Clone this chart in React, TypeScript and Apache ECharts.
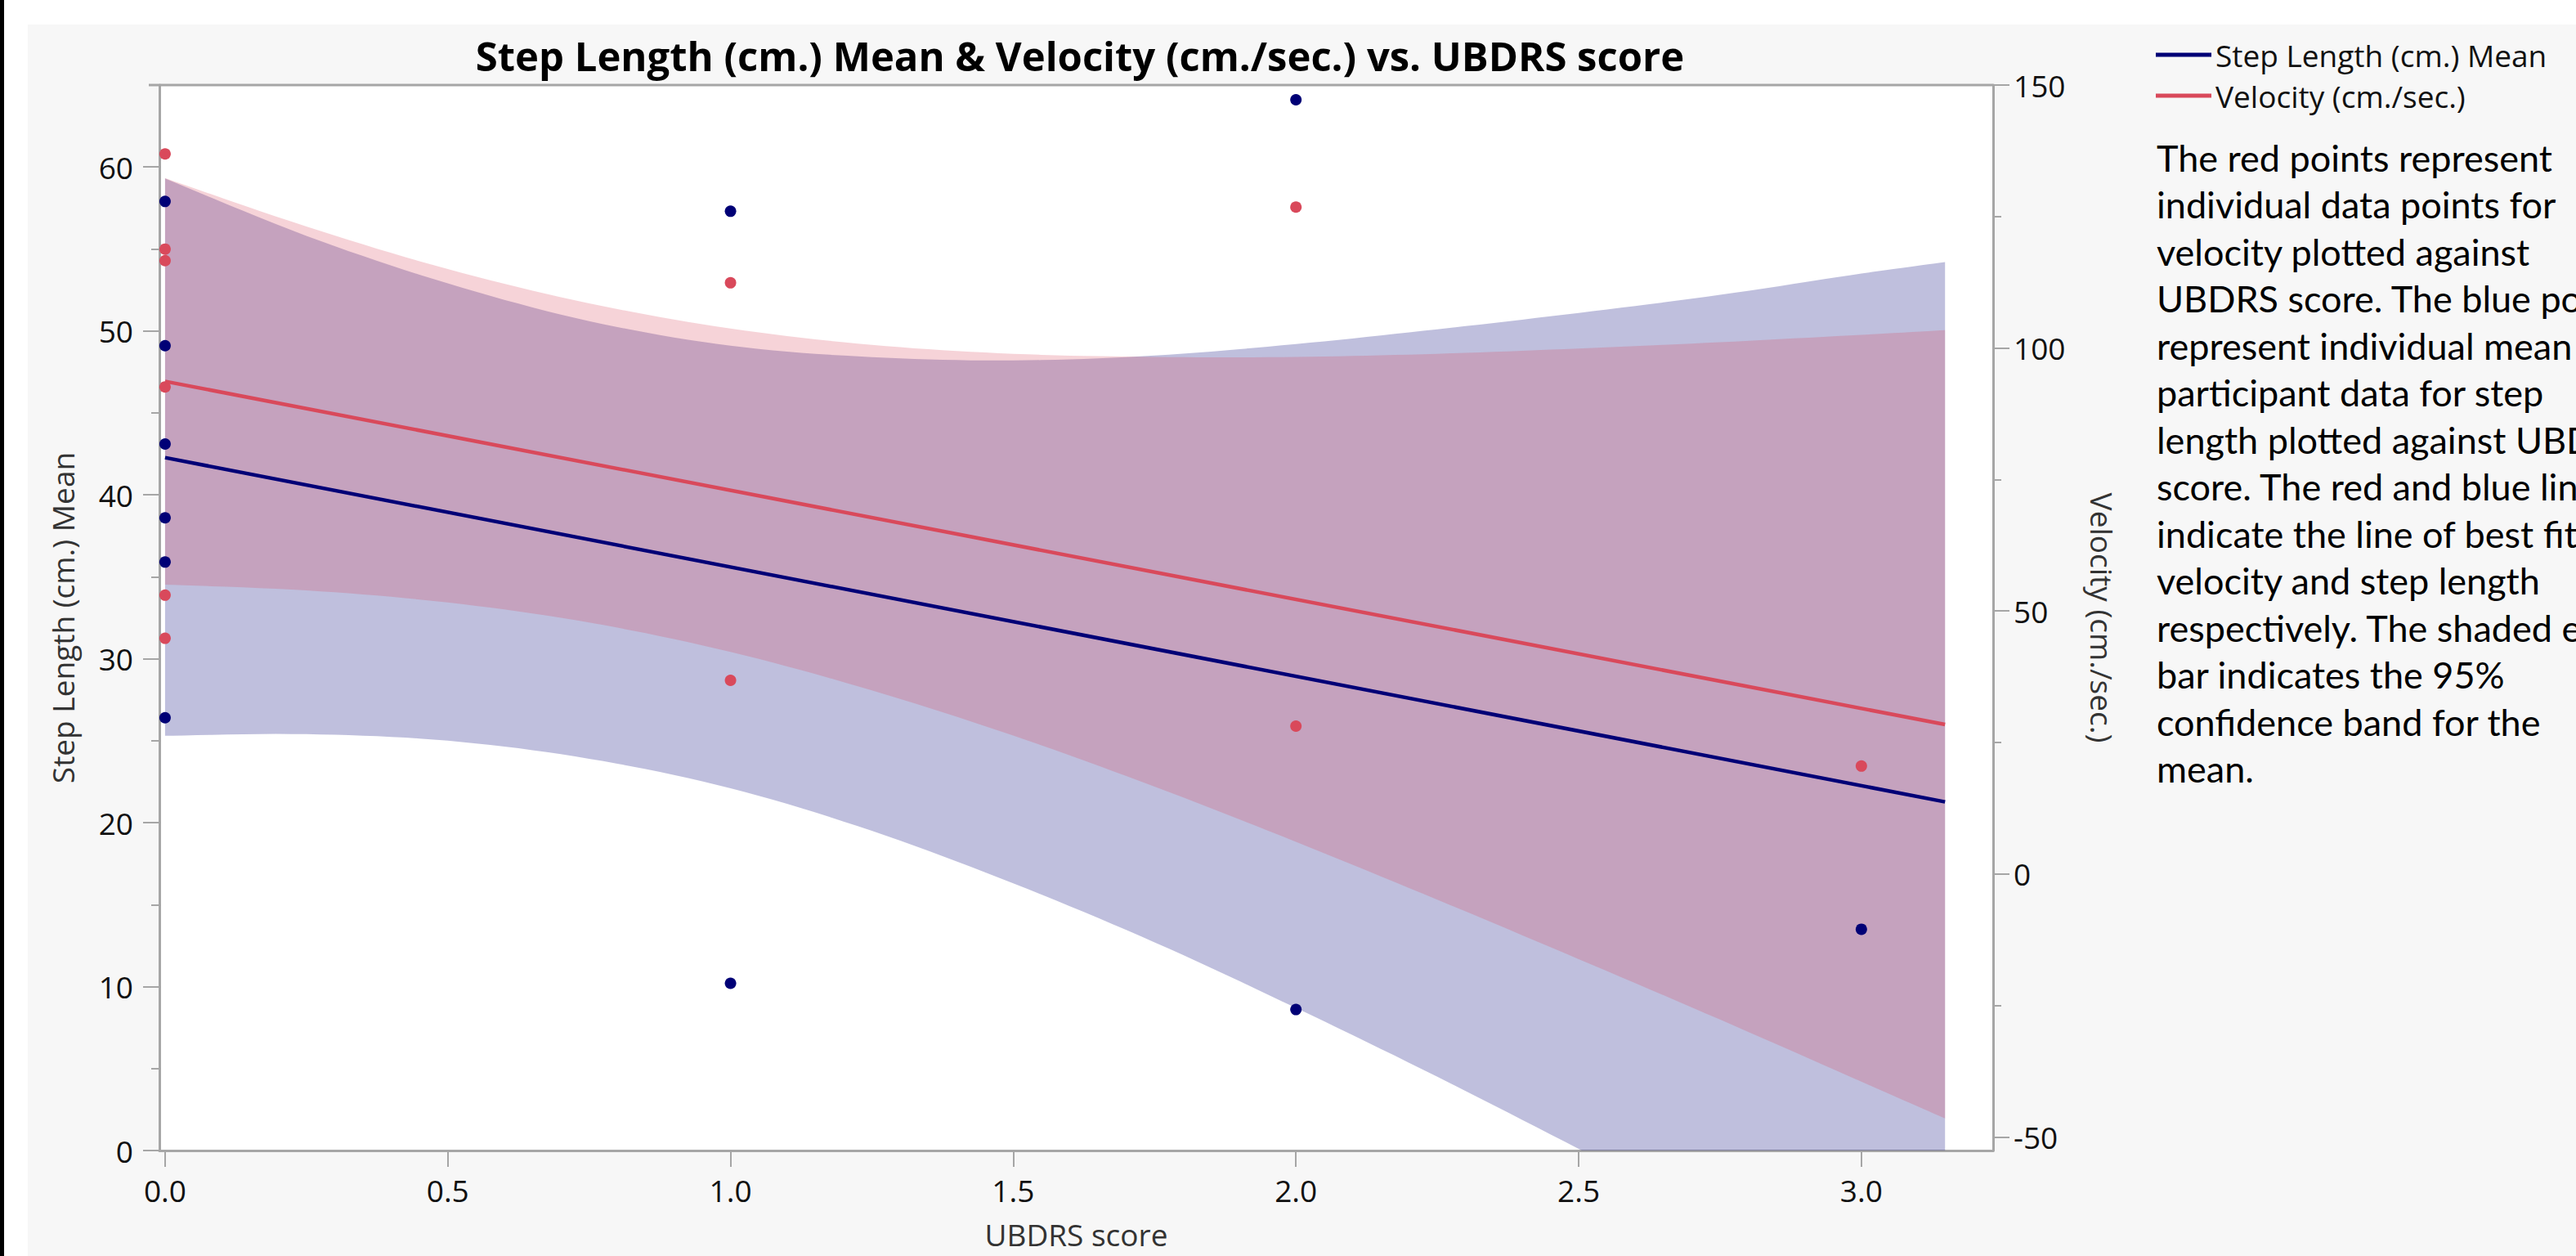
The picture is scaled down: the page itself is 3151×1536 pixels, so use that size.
import React, { useEffect, useRef } from "react";
import * as echarts from "echarts";

// ---- data ----
const ubdrsStep = [0, 0, 0, 0, 0, 0, 1, 1, 2, 2, 3];
const stepLength = [57.9, 49.1, 43.1, 38.6, 35.9, 26.4, 57.3, 10.2, 64.1, 8.6, 13.5];
const ubdrsVel = [0, 0, 0, 0, 0, 0, 1, 1, 2, 2, 3];
const velocity = [136.9, 118.8, 116.6, 92.6, 53.0, 44.8, 112.4, 36.8, 126.8, 28.1, 20.5];

const fitX = [0, 3.148];
const stepFit = [42.27, 21.27];
const velFit = [93.66, 28.4];

const bandX = [0, 0.25, 0.5, 0.75, 1, 1.25, 1.5, 1.75, 2, 2.25, 2.5, 2.75, 3, 3.148];
const stepLower = [25.3, 25.4, 25.0, 23.9, 22.1, 19.5, 16.3, 12.7, 8.7, 4.5, 0.1, -4.4, -8.9, -11.7];
const stepUpper = [59.3, 55.8, 52.9, 50.6, 49.1, 48.4, 48.2, 48.5, 49.2, 50.1, 51.1, 52.2, 53.5, 54.2];
const velLower = [55.0, 53.9, 51.6, 47.8, 42.2, 34.9, 26.3, 16.6, 6.1, -4.9, -16.2, -27.7, -39.5, -46.5];
const velUpper = [132.3, 123.1, 115.0, 108.5, 103.7, 100.6, 98.9, 98.3, 98.3, 98.9, 99.9, 101.1, 102.5, 103.4];

const xTicks = [0, 0.5, 1, 1.5, 2, 2.5, 3];
const leftTicks = [0, 10, 20, 30, 40, 50, 60];
const rightTicks = [-50, 0, 50, 100, 150];

const titleText = "Step Length (cm.) Mean & Velocity (cm./sec.) vs. UBDRS score";
const stepName = "Step Length (cm.) Mean";
const velName = "Velocity (cm./sec.)";
const noteLines = [
  "The red points represent",
  "individual data points for",
  "velocity plotted against",
  "UBDRS score. The blue points",
  "represent individual mean",
  "participant data for step",
  "length plotted against UBDRS",
  "score. The red and blue lines",
  "indicate the line of best fit for",
  "velocity and step length",
  "respectively. The shaded error",
  "bar indicates the 95%",
  "confidence band for the",
  "mean.",
];

const BLUE = "#000076";
const RED = "#d9495b";
const AXIS = "#a6a6a6";
const FONT = "'Open Sans', sans-serif";

// Catmull-Rom smoothing of already-projected pixel points (rendering only)
function smoothPixels(pts: number[][], seg = 10): number[][] {
  const out: number[][] = [];
  const n = pts.length;
  for (let i = 0; i < n - 1; i++) {
    const p0 = pts[Math.max(i - 1, 0)];
    const p1 = pts[i];
    const p2 = pts[i + 1];
    const p3 = pts[Math.min(i + 2, n - 1)];
    for (let s = 0; s < seg; s++) {
      const t = s / seg;
      const t2 = t * t;
      const t3 = t2 * t;
      const f = (a: number, b: number, c: number, d: number) =>
        0.5 * (2 * b + (-a + c) * t + (2 * a - 5 * b + 4 * c - d) * t2 + (-a + 3 * b - 3 * c + d) * t3);
      out.push([f(p0[0], p1[0], p2[0], p3[0]), f(p0[1], p1[1], p2[1], p3[1])]);
    }
  }
  out.push(pts[n - 1]);
  return out;
}

function bandSeries(name: string, yAxisIndex: number, lower: number[], upper: number[], fill: string) {
  return {
    name,
    type: "custom",
    xAxisIndex: 0,
    yAxisIndex,
    clip: true,
    silent: true,
    data: [[bandX[0], lower[0]]],
    renderItem: (_params: any, api: any) => {
      const top = bandX.map((x, i) => api.coord([x, upper[i]]));
      const bot = bandX.map((x, i) => api.coord([x, lower[i]]));
      const pts = [...smoothPixels(top), ...smoothPixels(bot).reverse()];
      return { type: "polygon", shape: { points: pts }, style: { fill } };
    },
  };
}

export default function App() {
  const ref = useRef<HTMLDivElement>(null);
  useEffect(() => {
    document.body.style.margin = "0";
    document.body.style.overflow = "hidden";
    const chart = echarts.init(ref.current!, null, { renderer: "svg" });

    const pairs = (xs: number[], ys: number[]) => xs.map((x, i) => [x, ys[i]]);

    const labelStyle = { fontSize: 37, color: "#111", fontFamily: FONT };
    const nameStyle = { fontSize: 37, color: "#333", fontFamily: FONT };
    const tickLine = { color: AXIS, width: 2 };

    chart.setOption({
      animation: false,
      backgroundColor: "#f7f7f7",
      textStyle: { fontFamily: FONT },
      title: {
        text: titleText,
        left: 1316,
        top: 38,
        textAlign: "center",
        textStyle: { fontSize: 49, fontWeight: "bold", color: "#000", fontFamily: FONT },
      },
      legend: {
        orient: "vertical",
        left: 2632,
        top: 40,
        itemWidth: 68,
        itemHeight: 5,
        itemGap: 6,
        icon: "rect",
        data: [stepName, velName],
        textStyle: { fontSize: 37, color: "#111", fontFamily: FONT, lineHeight: 44 },
        selectedMode: false,
      },
      grid: {
        left: 195,
        top: 104,
        width: 2243,
        height: 1303,
        show: true,
        backgroundColor: "#ffffff",
        borderWidth: 0,
        outerBoundsMode: "none",
      },
      xAxis: {
        type: "value",
        min: -0.01,
        max: 3.233,
        splitLine: { show: false },
        axisLine: { show: true, onZero: false, lineStyle: { color: AXIS, width: 3 } },
        axisTick: { show: true, length: 20, lineStyle: tickLine, customValues: xTicks },
        axisLabel: {
          ...labelStyle,
          margin: 30,
          customValues: xTicks,
          formatter: (v: number) => v.toFixed(1),
        },
        name: "UBDRS score",
        nameLocation: "middle",
        nameGap: 84,
        nameTextStyle: nameStyle,
      },
      yAxis: [
        {
          type: "value",
          min: 0,
          max: 65,
          position: "left",
          splitLine: { show: false },
          axisLine: { show: true, onZero: false, lineStyle: { color: AXIS, width: 3 } },
          axisTick: { show: true, length: 20, lineStyle: tickLine, customValues: leftTicks },
          minorTick: { show: true, splitNumber: 2, length: 10, lineStyle: tickLine },
          axisLabel: { ...labelStyle, margin: 32, customValues: leftTicks },
          name: stepName,
          nameLocation: "middle",
          nameRotate: 90,
          nameGap: 100,
          nameTextStyle: nameStyle,
        },
        {
          type: "value",
          min: -52.6,
          max: 150,
          position: "right",
          splitLine: { show: false },
          axisLine: { show: true, onZero: false, lineStyle: { color: AXIS, width: 3 } },
          axisTick: { show: true, length: 20, lineStyle: tickLine, customValues: rightTicks },
          minorTick: { show: true, splitNumber: 2, length: 10, lineStyle: tickLine },
          axisLabel: { ...labelStyle, margin: 25, customValues: rightTicks },
          name: velName,
          nameLocation: "middle",
          nameRotate: -90,
          nameGap: 115,
          nameTextStyle: nameStyle,
        },
      ],
      graphic: [
        { type: "rect", shape: { x: 0, y: 0, width: 3151, height: 30 }, style: { fill: "#ffffff" }, silent: true },
        { type: "rect", shape: { x: 0, y: 0, width: 34, height: 1536 }, style: { fill: "#ffffff" }, silent: true },
        { type: "rect", shape: { x: 0, y: 0, width: 5, height: 1536 }, style: { fill: "#000000" }, silent: true },
        {
          type: "line",
          shape: { x1: 182, y1: 104, x2: 2438, y2: 104 },
          style: { stroke: AXIS, lineWidth: 3 },
          z: 10,
          silent: true,
        },
        {
          type: "text",
          x: 2638,
          y: 164,
          style: {
            text: noteLines.join("\n"),
            fontSize: 45,
            fontFamily: "Lato, sans-serif",
            lineHeight: 57.5,
            fill: "#000",
          },
          silent: true,
        },
      ],
      series: [
        bandSeries("stepBand", 0, stepLower, stepUpper, "rgba(0,0,118,0.25)"),
        {
          name: stepName,
          type: "line",
          xAxisIndex: 0,
          yAxisIndex: 0,
          data: pairs(fitX, stepFit),
          symbol: "none",
          itemStyle: { color: BLUE },
          lineStyle: { color: BLUE, width: 4.5 },
        },
        {
          name: stepName,
          type: "scatter",
          xAxisIndex: 0,
          yAxisIndex: 0,
          data: pairs(ubdrsStep, stepLength),
          symbolSize: 14,
          itemStyle: { color: BLUE, opacity: 1 },
        },
        bandSeries("velBand", 1, velLower, velUpper, "rgba(217,73,91,0.24)"),
        {
          name: velName,
          type: "line",
          xAxisIndex: 0,
          yAxisIndex: 1,
          data: pairs(fitX, velFit),
          symbol: "none",
          itemStyle: { color: RED },
          lineStyle: { color: RED, width: 4.5 },
        },
        {
          name: velName,
          type: "scatter",
          xAxisIndex: 0,
          yAxisIndex: 1,
          data: pairs(ubdrsVel, velocity),
          symbolSize: 14,
          itemStyle: { color: RED, opacity: 1 },
        },
      ],
    });
    return () => chart.dispose();
  }, []);
  return <div ref={ref} style={{ width: 3151, height: 1536 }} />;
}
